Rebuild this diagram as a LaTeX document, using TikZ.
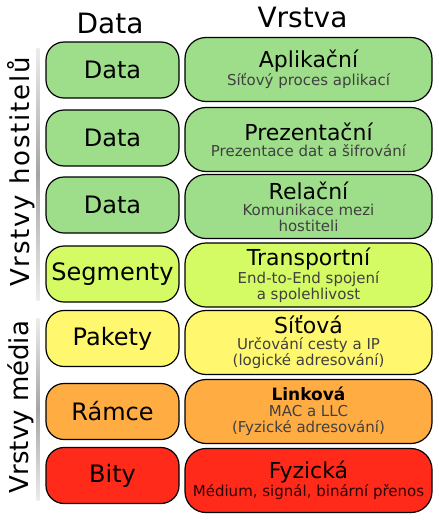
\documentclass[tikz,border=0pt]{standalone}
\usepackage{fontspec}
\setmainfont{DejaVu Sans}
\usetikzlibrary{positioning}
\definecolor{zelena}{RGB}{158,222,138}
\definecolor{limeta}{RGB}{212,250,100}
\definecolor{zluta}{RGB}{255,248,110}
\definecolor{oranz}{RGB}{255,172,66}
\definecolor{cervena}{RGB}{255,42,26}
\newcommand\vtitul[1]{{\fontsize{22}{22}\selectfont\color{black}#1}}

\begin{document}
\begin{tikzpicture}[x=1pt,y=-1pt,
    datbox/.style={draw,line width=1.2pt,rounded corners=18pt,minimum width=133pt,minimum height=56pt,font=\fontsize{24}{24}\selectfont},
    vrbox/.style={draw,line width=1.2pt,rounded corners=21pt,minimum width=247pt,minimum height=64pt,align=center,font=\fontsize{15}{16}\selectfont,text=black!75}]
     \useasboundingbox (0,0) rectangle (439,520);
     % hlavicky
     \node[font=\fontsize{28}{28}\selectfont,anchor=base] (hdata)  at (110,33) {Data};
     \node[font=\fontsize{28}{28}\selectfont,anchor=base] (hvrstva)  at (302.5,27) {Vrstva};
     % skupiny vrstev
     \shade[top color=gray!15,bottom color=gray!15,middle color=gray!70] (36.5,48) rectangle (39.5,300);
     \shade[top color=gray!15,bottom color=gray!15,middle color=gray!70] (36.5,318) rectangle (39.5,500);
     \node[rotate=90,font=\fontsize{26}{26}\selectfont\addfontfeatures{LetterSpace=7}] (hostitele)  at (21,172) {Vrstvy hostitelů};
     \node[rotate=90,font=\fontsize{26}{26}\selectfont] (media)  at (21,407) {Vrstvy média};
     % data
     \node[datbox,fill=zelena] (d1)  at (112.5,70) {Data};
     \node[datbox,fill=zelena] (d2)  at (112.5,138) {Data};
     \node[datbox,fill=zelena] (d3)  at (112.5,205) {Data};
     \node[datbox,fill=limeta] (d4)  at (112.5,274) {Segmenty};
     \node[datbox,fill=zluta] (d5)  at (112.5,338.5) {Pakety};
     \node[datbox,fill=oranz] (d6)  at (112.5,411.5) {Rámce};
     \node[datbox,fill=cervena] (d7)  at (112.5,475.5) {Bity};
     % vrstvy
     \node[vrbox,fill=zelena] (v1)  at (308.5,69.5) {\vtitul{Aplikační}\\Síťový proces aplikací};
     \node[vrbox,fill=zelena] (v2)  at (308.5,139.5) {\vtitul{Prezentační}\\Prezentace dat a šifrování};
     \node[vrbox,fill=zelena] (v3)  at (308.5,206.5) {\vtitul{Relační}\\Komunikace mezi\\hostiteli};
     \node[vrbox,fill=limeta] (v4)  at (308.5,275) {\vtitul{Transportní}\\End-to-End spojení\\a spolehlivost};
     \node[vrbox,fill=zluta] (v5)  at (308.5,342.5) {\vtitul{Síťová}\\Určování cesty a IP\\(logické adresování)};
     \node[vrbox,fill=oranz] (v6)  at (308.5,411.5) {{\fontsize{17}{17}\selectfont\bfseries\color{black}Linková}\\MAC a LLC\\(Fyzické adresování)};
     \node[vrbox,fill=cervena,text=black!70!red!60!black] (v7)  at (308.5,480.5) {\vtitul{Fyzická}\\Médium, signál, binární přenos};
    \end{tikzpicture}
\end{document}
